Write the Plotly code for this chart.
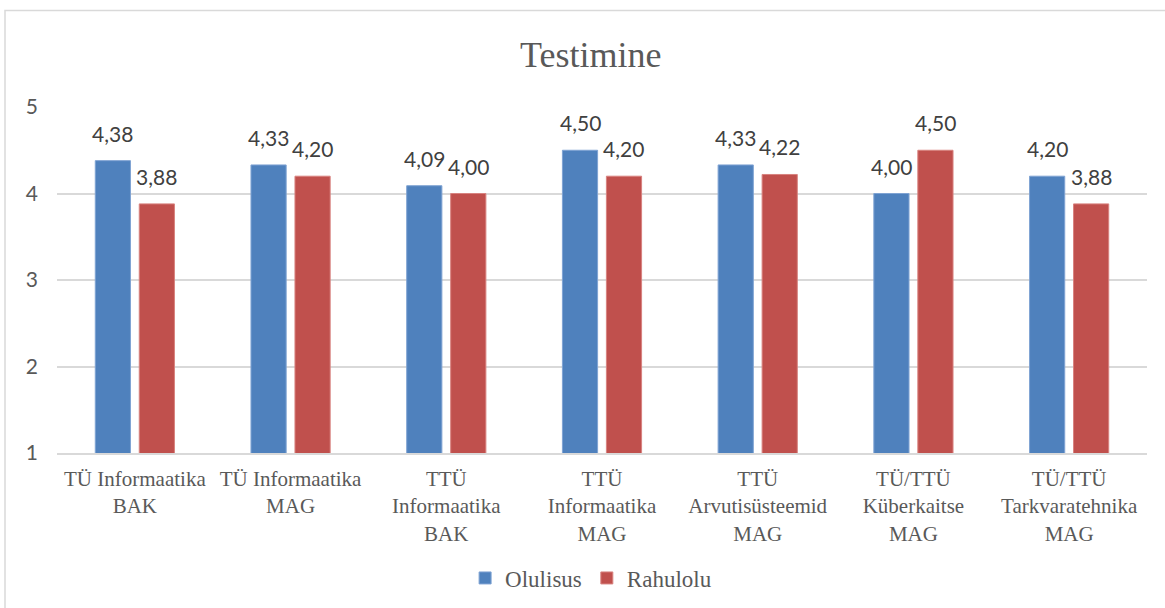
import plotly.graph_objects as go

# Survey results: importance vs. satisfaction for the "Testimine" topic
categories = [
    "TÜ Informaatika<br>BAK",
    "TÜ Informaatika<br>MAG",
    "TTÜ<br>Informaatika<br>BAK",
    "TTÜ<br>Informaatika<br>MAG",
    "TTÜ<br>Arvutisüsteemid<br>MAG",
    "TÜ/TTÜ<br>Küberkaitse<br>MAG",
    "TÜ/TTÜ<br>Tarkvaratehnika<br>MAG",
]
olulisus = [4.38, 4.33, 4.09, 4.50, 4.33, 4.00, 4.20]
rahulolu = [3.88, 4.20, 4.00, 4.20, 4.22, 4.50, 3.88]
y_ticks = [1, 2, 3, 4, 5]

BLUE = "#4F81BD"
RED = "#C0504D"
GRID = "#D9D9D9"
TXT = "#595959"
LBL = "#404040"
SERIF = "Liberation Serif"
SANS = "Lato"

W, H = 1165, 608
ML, MR, MT, MB = 57, 18, 107, 155
plot_w = W - ML - MR
plot_h = H - MT - MB

BARGAP = 0.435
BARGROUPGAP = 0.2

fig = go.Figure()
fig.add_bar(name="Olulisus", x=categories, y=olulisus, marker_color=BLUE,
            marker_line=dict(color="#7FA3D3", width=1))
fig.add_bar(name="Rahulolu", x=categories, y=rahulolu, marker_color=RED,
            marker_line=dict(color="#D8827F", width=1))

# value labels above each bar, offset to the bar's position in its group
slot = plot_w / len(categories)
offset = slot * (1 - BARGAP) / 4
for series, sign in ((olulisus, -1), (rahulolu, 1)):
    for cat, v in zip(categories, series):
        fig.add_annotation(
            x=cat, y=v, xref="x", yref="y",
            text=f"{v:.2f}".replace(".", ","),
            showarrow=False, yanchor="bottom", xanchor="center",
            xshift=sign * offset, yshift=13,
            font=dict(family=SANS, size=21, color=LBL),
        )

# chart title
fig.add_annotation(
    text="Testimine", xref="paper", yref="paper",
    x=(590 - ML) / plot_w, y=(H - MB - 55) / plot_h,
    showarrow=False, xanchor="center", yanchor="middle",
    font=dict(family=SERIF, size=36, color=TXT),
)

# outer chart frame
fig.add_shape(
    type="rect", xref="paper", yref="paper",
    x0=(5 - ML) / plot_w, x1=(W + 10 - ML) / plot_w,
    y0=(H - MB - (H + 10)) / plot_h, y1=(H - MB - 10.5) / plot_h,
    line=dict(color=GRID, width=1.5), fillcolor="rgba(0,0,0,0)", layer="below",
)

fig.update_layout(
    width=W, height=H,
    margin=dict(l=ML, r=MR, t=MT, b=MB, autoexpand=False),
    paper_bgcolor="white", plot_bgcolor="white",
    font=dict(family=SERIF, size=21, color=TXT),
    barmode="group", bargap=BARGAP, bargroupgap=BARGROUPGAP,
    showlegend=True,
    legend=dict(
        orientation="h", x=0.49, xanchor="center",
        y=(H - MB - 578) / plot_h, yanchor="middle",
        itemwidth=30, traceorder="normal",
    ),
    legend_font=dict(family=SERIF, size=23, color=TXT),
    xaxis=dict(
        showgrid=False, showline=True, linecolor=GRID, linewidth=1.5,
        ticks="", tickfont=dict(family=SERIF, size=21, color=TXT),
        ticklabelstandoff=6, tickangle=0,
    ),
    yaxis=dict(
        range=[1, 5], tickvals=y_ticks, ticktext=[str(t) for t in y_ticks],
        showgrid=True, gridcolor=GRID, gridwidth=1.5,
        zeroline=False, showline=False, ticks="",
        tickfont=dict(family=SANS, size=21, color=TXT),
        ticklabelstandoff=18,
    ),
)

fig.write_html("out.html")
